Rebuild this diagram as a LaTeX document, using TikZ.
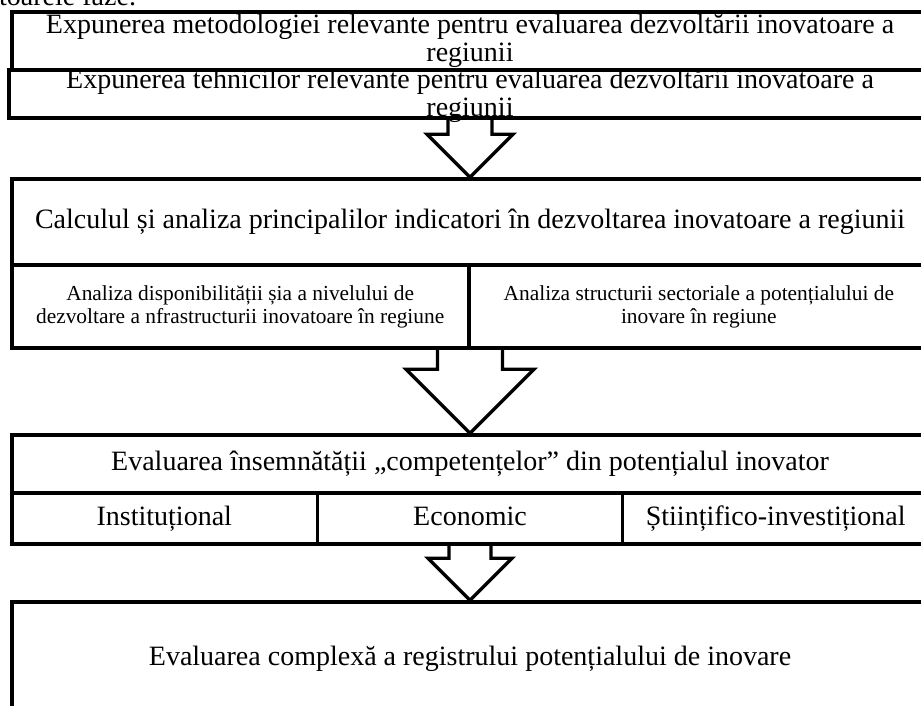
\documentclass[tikz,border=0pt]{standalone}
\usepackage{fontspec}
\setmainfont{Liberation Serif}
\usetikzlibrary{calc}

\newcommand{\blockarrow}[4]{%
  \draw[arrline] ($(#1.south -| #2.north)+(-#3,0)$)
    -- ($(#2.north)+(-#3,-#4)$) -- ($(#2.north)+(-#4,-#4)$)
    -- (#2.north)
    -- ($(#2.north)+(#4,-#4)$) -- ($(#2.north)+(#3,-#4)$)
    -- ($(#1.south -| #2.north)+(#3,0)$);}

\begin{document}
\begin{tikzpicture}[x=1pt,y=-1pt,
    frame/.style={draw,line width=3.5pt,inner sep=0pt,minimum width=916pt},
    cell/.style={draw,line width=2.8pt,inner sep=0pt},
    bigtxt/.style={font=\fontsize{28}{28}\selectfont,align=center},
    smalltxt/.style={font=\fontsize{21.4}{23}\selectfont,align=center},
    oneline/.style={text height=19pt,text depth=6pt},
    arrline/.style={line width=3.2pt}]
      \useasboundingbox (0,0) rectangle (921,706);
      \clip (0,0) rectangle (921,706);
      \node[bigtxt,anchor=base west,inner sep=0pt] (faze) at (-1,6) {toarele faze.};

      \node[frame,minimum height=58pt] (b1) at (470,41) {};
      \node[bigtxt] (t1) at (b1) {Expunerea metodologiei relevante pentru evaluarea dezvoltării inovatoare a\\regiunii};
      \node[frame,minimum width=919pt,minimum height=48pt] (b2) at (468.5,94) {};
      \node[bigtxt] (t2) at (470,95.5) {Expunerea tehnicilor relevante pentru evaluarea dezvoltării inovatoare a\\regiunii};

      \node[frame,minimum height=169pt] (b3) at (470,263.5) {};
      \node[cell,bigtxt,oneline,minimum width=916pt,minimum height=86pt,anchor=north] (b3t) at (b3.north)
        {Calculul și analiza principalilor indicatori în dezvoltarea inovatoare a regiunii};
      \node[cell,smalltxt,minimum width=457pt,minimum height=83pt,anchor=south west] (b3a) at (b3.south west)
        {Analiza disponibilității șia a nivelului de\\dezvoltare a nfrastructurii inovatoare în regiune};
      \node[cell,smalltxt,minimum width=459pt,minimum height=83pt,anchor=south east] (b3b) at (b3.south east)
        {Analiza structurii sectoriale a potențialului de\\inovare în regiune};

      \node[frame,minimum height=109pt] (b4) at (470,489.5) {};
      \node[cell,bigtxt,oneline,minimum width=916pt,minimum height=58pt,anchor=north] (b4t) at (b4.north)
        {Evaluarea însemnătății „competențelor” din potențialul inovator};
      \node[cell,bigtxt,oneline,minimum width=305.3pt,minimum height=51pt,anchor=south west] (b4a) at (b4.south west) {Instituțional};
      \node[cell,bigtxt,oneline,minimum width=305.3pt,minimum height=51pt,anchor=south] (b4b) at (b4.south) {Economic};
      \node[cell,bigtxt,oneline,minimum width=305.3pt,minimum height=51pt,anchor=south east] (b4c) at (b4.south east) {Științifico-investițional};

      \node[frame,bigtxt,oneline,minimum height=114pt] (b5) at (470,659) {Evaluarea complexă a registrului potențialului de inovare};

      \blockarrow{b2}{b3}{22}{43}
      \blockarrow{b3}{b4}{32.5}{64}
      \blockarrow{b4}{b5}{21}{42}
    \end{tikzpicture}
\end{document}
